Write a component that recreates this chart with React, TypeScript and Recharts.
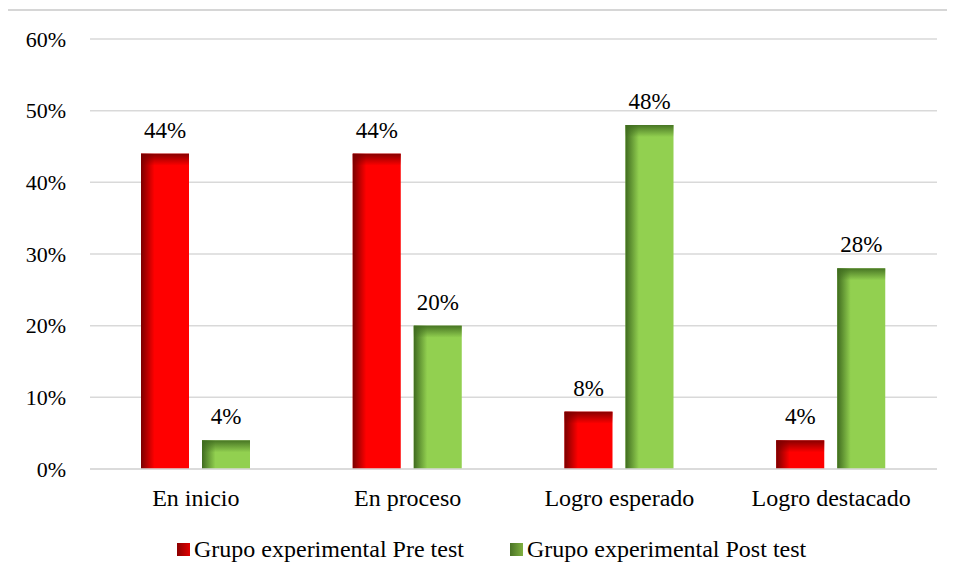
import React from "react"
import { BarChart, Bar, XAxis, YAxis, CartesianGrid, Legend, LabelList } from "recharts"

const categories = ["En inicio", "En proceso", "Logro esperado", "Logro destacado"]
const preTest = [44, 44, 8, 4]
const postTest = [4, 20, 48, 28]
const yTicks = [0, 10, 20, 30, 40, 50, 60]

const seriesNames = ["Grupo experimental Pre test", "Grupo experimental Post test"]

const data = categories.map((name, i) => ({ name, pre: preTest[i], post: postTest[i] }))

const FONT = "Times New Roman, Liberation Serif, Tinos, DejaVu Serif, serif"

function makeShape(base: string, dark: string, key: string) {
  return (props: any) => {
    const { x, y, width, height, index } = props
    if (!height || height <= 0) return <g />
    const id = `${key}-${index}`
    const topH = Math.min(12, height)
    return (
      <g>
        <defs>
          <linearGradient id={`${id}-l`} x1="0" y1="0" x2="1" y2="0">
            <stop offset="0%" stopColor={dark} stopOpacity={1} />
            <stop offset="28%" stopColor={dark} stopOpacity={0} />
          </linearGradient>
          <linearGradient id={`${id}-t`} x1="0" y1="0" x2="0" y2="1">
            <stop offset="0%" stopColor={dark} stopOpacity={0.9} />
            <stop offset="100%" stopColor={dark} stopOpacity={0} />
          </linearGradient>
        </defs>
        <rect x={x} y={y} width={width} height={height} fill={base} />
        <rect x={x} y={y} width={width} height={height} fill={`url(#${id}-l)`} />
        <rect x={x} y={y} width={width} height={topH} fill={`url(#${id}-t)`} />
      </g>
    )
  }
}

const legendItems = [
  { name: seriesNames[0], from: "#8b0000", to: "#e00000" },
  { name: seriesNames[1], from: "#4a7326", to: "#7fb040" },
]

function LegendContent() {
  return (
    <div
      style={{
        display: "flex",
        alignItems: "center",
        height: 30,
        paddingLeft: 177,
        fontFamily: FONT,
        fontSize: 24,
        color: "#000",
      }}
    >
      {legendItems.map((it, i) => (
        <div key={it.name} style={{ display: "flex", alignItems: "center", marginRight: i === 0 ? 46 : 0 }}>
          <span
            style={{
              display: "inline-block",
              width: 13,
              height: 13,
              marginRight: 4,
              background: `linear-gradient(to right, ${it.from}, ${it.to})`,
            }}
          />
          <span style={{ whiteSpace: "nowrap" }}>{it.name}</span>
        </div>
      ))}
    </div>
  )
}

export default function App() {
  return (
    <div style={{ position: "relative", margin: -8, width: 955, height: 580, overflow: "hidden", background: "#fff", fontFamily: FONT }}>
      <div
        style={{
          position: "absolute",
          left: 6,
          top: 9,
          width: 980,
          height: 600,
          border: "2px solid #d6d6d6",
        }}
      />
      <div style={{ position: "absolute", left: 0, top: 0 }}>
        <BarChart
          width={955}
          height={580}
          data={data}
          barSize={48}
          barGap={13}
          margin={{ top: 39, right: 18, left: 0, bottom: 51 }}
          style={{ fontFamily: FONT }}
        >
          <CartesianGrid vertical={false} stroke="#d9d9d9" strokeWidth={1.5} />
          <XAxis
            dataKey="name"
            height={30}
            axisLine={{ stroke: "#d9d9d9", strokeWidth: 1.5 }}
            tickLine={false}
            tickMargin={14}
            tick={{ fontSize: 24, fill: "#000", fontFamily: FONT }}
          />
          <YAxis
            width={90}
            domain={[0, 60]}
            ticks={yTicks}
            axisLine={false}
            tickLine={false}
            tickMargin={18}
            tickFormatter={(v: number) => `${v}%`}
            tick={{ fontSize: 22, fill: "#000", fontFamily: FONT }}
          />
          <Legend
            verticalAlign="bottom"
            height={30}
            content={<LegendContent />}
            wrapperStyle={{ bottom: 16, left: 0, width: 955 }}
          />
          <Bar
            dataKey="pre"
            name={seriesNames[0]}
            fill="#ff0000"
            isAnimationActive={false}
            shape={makeShape("#ff0000", "#7a0000", "pre")}
          >
            <LabelList
              dataKey="pre"
              position="top"
              offset={16}
              formatter={(v: any) => `${v}%`}
              fill="#000"
              fontSize={23}
              fontFamily={FONT}
            />
          </Bar>
          <Bar
            dataKey="post"
            name={seriesNames[1]}
            fill="#92d050"
            isAnimationActive={false}
            shape={makeShape("#92d050", "#3f6b1f", "post")}
          >
            <LabelList
              dataKey="post"
              position="top"
              offset={16}
              formatter={(v: any) => `${v}%`}
              fill="#000"
              fontSize={23}
              fontFamily={FONT}
            />
          </Bar>
        </BarChart>
      </div>
    </div>
  )
}
